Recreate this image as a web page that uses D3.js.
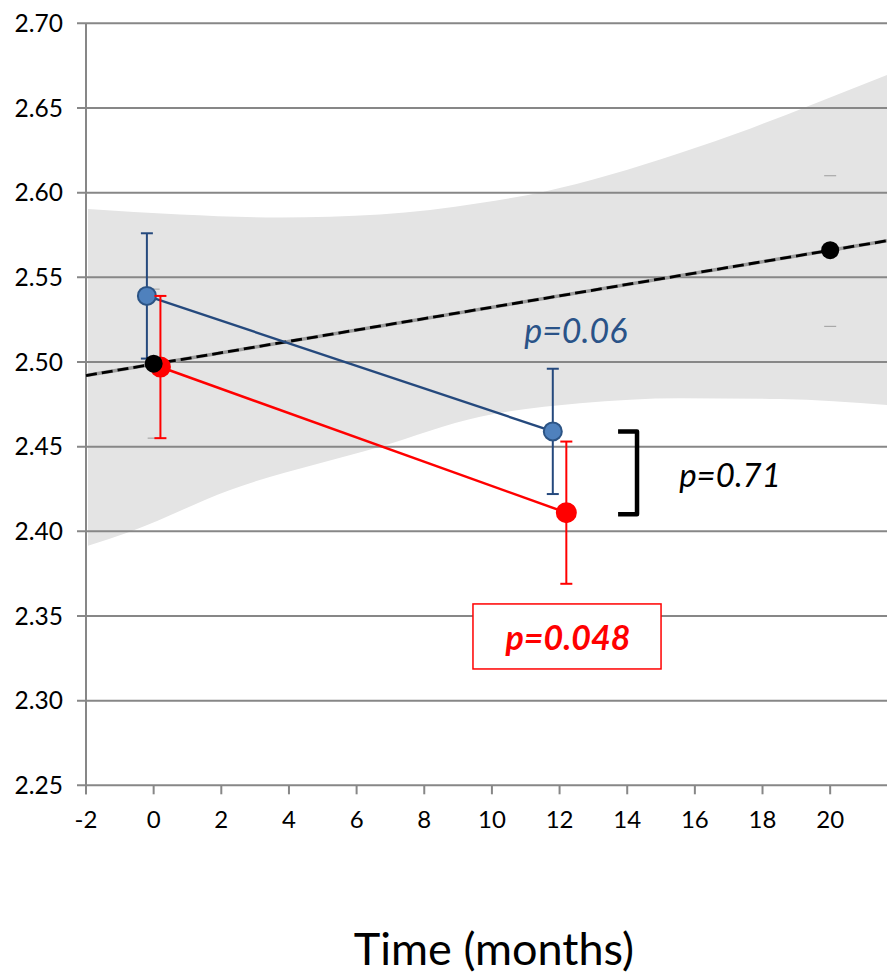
<!DOCTYPE html>
<html>
<head>
<meta charset="utf-8">
<script src="https://cdn.jsdelivr.net/npm/d3@7"></script>
<style>
  html, body { margin: 0; padding: 0; background: #ffffff; }
  svg { display: block; }
  text { font-family: Lato, "Open Sans", sans-serif; }
</style>
</head>
<body>
<script>
// ---------- data ----------
const xTicks = [-2, 0, 2, 4, 6, 8, 10, 12, 14, 16, 18, 20];
const yTicks = [2.25, 2.30, 2.35, 2.40, 2.45, 2.50, 2.55, 2.60, 2.65, 2.70];

const blueX  = [-0.2, 11.8];
const blueY  = [2.539, 2.459];
const blueLo = [2.502, 2.422];
const blueHi = [2.576, 2.496];

const redX  = [0.2, 12.2];
const redY  = [2.497, 2.411];
const redLo = [2.455, 2.369];
const redHi = [2.539, 2.453];

const refX  = [0, 20];
const refY  = [2.499, 2.566];
const refLo = [2.455, 2.521];
const refHi = [2.543, 2.610];

const trendX = [-2, 21.68];
const trendY = [2.492, 2.5716];

const bandUpperX = [-1.94, 0.78, 3.74, 6.69, 9.65, 11.51, 13.49, 15.56, 17.63, 19.40, 21.68];
const bandUpperY = [2.5903, 2.5871, 2.5853, 2.5871, 2.5939, 2.6004, 2.6105, 2.6234, 2.6378, 2.6515, 2.6695];
const bandLowerX = [-1.94, -0.70, 2.26, 6.69, 9.65, 12.60, 15.56, 18.52, 21.68];
const bandLowerY = [2.3915, 2.3998, 2.4244, 2.4500, 2.4677, 2.4756, 2.4786, 2.4781, 2.4746];

const annotBlue  = { x: 12.48, y: 2.5112, text: "p=0.06" };
const annotBlack = { x: 17.04, y: 2.4260, text: "p=0.71" };
const annotRed   = { x: 12.25, y: 2.3300, text: "p=0.048" };
const bracketX = [13.73, 14.29];
const bracketY = [2.459, 2.410];
const redBoxX = [9.44, 15.00];
const redBoxY = [2.3571, 2.3187];
const xTitle = "Time (months)";

// ---------- layout ----------
const W = 887, H = 975;
const x = d3.scaleLinear().domain([-2, 21.68]).range([86, 887]);
const y = d3.scaleLinear().domain([2.25, 2.70]).range([785.3, 23.3]);

const svg = d3.select("body").append("svg").attr("width", W).attr("height", H);

const gridColor = "#878787";

// confidence band
const lineGen = d3.line().x(d => x(d[0])).y(d => y(d[1])).curve(d3.curveMonotoneX);
const upperPts = bandUpperX.map((v, i) => [v, bandUpperY[i]]);
const lowerPts = bandLowerX.map((v, i) => [v, bandLowerY[i]]).reverse();
const upPath = lineGen(upperPts);
const loPath = lineGen(lowerPts);
svg.append("path")
  .attr("d", upPath + "L" + loPath.slice(1) + "Z")
  .attr("fill", "#e4e4e4");

// gridlines
svg.append("g").selectAll("line").data(yTicks).join("line")
  .attr("x1", 77).attr("x2", W)
  .attr("y1", d => y(d)).attr("y2", d => y(d))
  .attr("stroke", gridColor).attr("stroke-width", 2);

// y axis line
svg.append("line")
  .attr("x1", x(-2)).attr("x2", x(-2))
  .attr("y1", y(2.70)).attr("y2", y(2.25) + 9)
  .attr("stroke", gridColor).attr("stroke-width", 2);

// x ticks
svg.append("g").selectAll("line").data(xTicks).join("line")
  .attr("x1", d => x(d)).attr("x2", d => x(d))
  .attr("y1", y(2.25)).attr("y2", y(2.25) + 9)
  .attr("stroke", gridColor).attr("stroke-width", 2);

// y tick labels
svg.append("g").selectAll("text").data(yTicks).join("text")
  .attr("x", 63).attr("y", d => y(d))
  .attr("dy", "0.36em")
  .attr("text-anchor", "end")
  .attr("font-size", 24.5)
  .attr("fill", "#000")
  .text(d => d.toFixed(2));

// x tick labels
svg.append("g").selectAll("text").data(xTicks).join("text")
  .attr("x", d => x(d)).attr("y", 828)
  .attr("text-anchor", "middle")
  .attr("font-size", 24)
  .attr("fill", "#000")
  .text(d => d);

// x title
svg.append("text")
  .attr("x", 494).attr("y", 965)
  .attr("text-anchor", "middle")
  .attr("font-size", 45)
  .attr("fill", "#000")
  .text(xTitle);

// trend line: gray solid + black dashed
const trendPts = trendX.map((v, i) => [v, trendY[i]]);
const straight = d3.line().x(d => x(d[0])).y(d => y(d[1]));
svg.append("path").attr("d", straight(trendPts))
  .attr("fill", "none").attr("stroke", "#9c9c9c").attr("stroke-width", 3.5);
svg.append("path").attr("d", straight(trendPts))
  .attr("fill", "none").attr("stroke", "#000").attr("stroke-width", 2.8)
  .attr("stroke-dasharray", "11,5");

// reference error caps (thin gray)
const refG = svg.append("g");
refX.forEach((v, i) => {
  [refLo[i], refHi[i]].forEach(e => {
    refG.append("line")
      .attr("x1", x(v) - 6).attr("x2", x(v) + 6)
      .attr("y1", y(e)).attr("y2", y(e))
      .attr("stroke", "#a8a8a8").attr("stroke-width", 1.2);
  });
});

function drawSeries(xs, ys, lo, hi, lineColor, fill, stroke, r, lw) {
  const g = svg.append("g");
  const pts = xs.map((v, i) => [v, ys[i]]);
  g.append("path").attr("d", straight(pts))
    .attr("fill", "none").attr("stroke", lineColor).attr("stroke-width", lw);
  xs.forEach((v, i) => {
    g.append("line")
      .attr("x1", x(v)).attr("x2", x(v))
      .attr("y1", y(lo[i])).attr("y2", y(hi[i]))
      .attr("stroke", lineColor).attr("stroke-width", 2);
    [lo[i], hi[i]].forEach(e => {
      g.append("line")
        .attr("x1", x(v) - 6).attr("x2", x(v) + 6)
        .attr("y1", y(e)).attr("y2", y(e))
        .attr("stroke", lineColor).attr("stroke-width", 2);
    });
  });
  g.selectAll("circle").data(pts).join("circle")
    .attr("cx", d => x(d[0])).attr("cy", d => y(d[1]))
    .attr("r", r)
    .attr("fill", fill)
    .attr("stroke", stroke).attr("stroke-width", 2);
}

drawSeries(blueX, blueY, blueLo, blueHi, "#25497d", "#4f81bd", "#2c5485", 9, 2.4);
drawSeries(redX, redY, redLo, redHi, "#ff0000", "#ff0000", "#ff0000", 9.5, 2.5);

// reference points
svg.append("g").selectAll("circle").data(refX.map((v, i) => [v, refY[i]])).join("circle")
  .attr("cx", d => x(d[0])).attr("cy", d => y(d[1]))
  .attr("r", 9).attr("fill", "#000");

// bracket
svg.append("path")
  .attr("d", `M${x(bracketX[0])},${y(bracketY[0])} L${x(bracketX[1])},${y(bracketY[0])} L${x(bracketX[1])},${y(bracketY[1])} L${x(bracketX[0])},${y(bracketY[1])}`)
  .attr("fill", "none").attr("stroke", "#000").attr("stroke-width", 4.5)
  .attr("stroke-linejoin", "round");

// annotations
svg.append("text")
  .attr("x", x(annotBlue.x)).attr("y", y(annotBlue.y))
  .attr("text-anchor", "middle")
  .attr("font-size", 34).attr("font-style", "italic")
  .attr("fill", "#2a5388")
  .text(annotBlue.text);

svg.append("text")
  .attr("x", x(annotBlack.x)).attr("y", y(annotBlack.y))
  .attr("text-anchor", "middle")
  .attr("font-size", 33).attr("font-style", "italic")
  .attr("fill", "#000")
  .text(annotBlack.text);

svg.append("rect")
  .attr("x", x(redBoxX[0])).attr("y", y(redBoxY[0]))
  .attr("width", x(redBoxX[1]) - x(redBoxX[0]))
  .attr("height", y(redBoxY[1]) - y(redBoxY[0]))
  .attr("fill", "#ffffff").attr("stroke", "#ff0000").attr("stroke-width", 1.5);

svg.append("text")
  .attr("x", x(annotRed.x)).attr("y", y(annotRed.y))
  .attr("text-anchor", "middle")
  .attr("font-size", 34).attr("font-style", "italic").attr("font-weight", "bold")
  .attr("fill", "#ff0000")
  .text(annotRed.text);
</script>
</body>
</html>
